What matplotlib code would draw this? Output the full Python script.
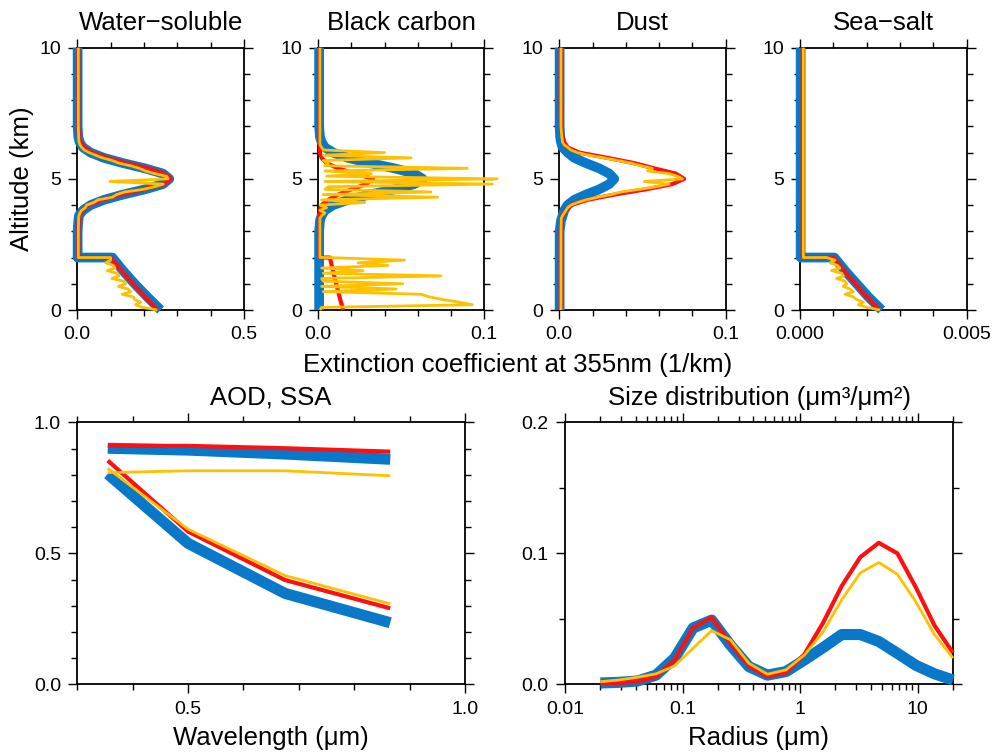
import matplotlib
matplotlib.use("Agg")
import matplotlib.pyplot as plt
from matplotlib.ticker import MultipleLocator, FixedLocator, FixedFormatter, LogLocator, NullFormatter

plt.rcParams["font.family"] = ["Liberation Sans", "DejaVu Sans"]

BLUE = "#0a78c8"
RED = "#ff1010"
YEL = "#ffc000"

# ---- extinction profiles (1/km) ----
alt_smooth = [0.0, 0.5, 1.0, 1.5, 2.0, 2.0, 2.5, 3.0, 3.4, 3.6, 3.8, 4.0, 4.2, 4.4,
              4.6, 4.8, 5.0, 5.2, 5.4, 5.6, 5.8, 6.0, 6.2, 6.4, 6.6, 7.0, 8.0, 10.0]
alt_noisy = [0.0, 0.1, 0.2, 0.3, 0.4, 0.5, 0.6, 0.7, 0.8, 0.9, 1.0, 1.1, 1.2, 1.3, 1.4,
             1.5, 1.6, 1.7, 1.8, 1.9, 2.0,
             2.0, 2.5, 3.0, 3.5,
             3.6, 3.7, 3.8, 3.9, 4.0, 4.1, 4.2, 4.3, 4.4, 4.5, 4.6, 4.7, 4.8, 4.9, 5.0,
             5.1, 5.2, 5.3, 5.4, 5.5, 5.6, 5.7, 5.8, 5.9, 6.0, 6.1, 6.2, 6.3, 6.4,
             6.6, 7.0, 8.0, 10.0]

ws_blue = [0.250, 0.210, 0.172, 0.137, 0.105, 0.001, 0.001, 0.001, 0.003, 0.005, 0.017, 0.040,
           0.080, 0.137, 0.203, 0.257, 0.276, 0.257, 0.203, 0.137, 0.080, 0.040, 0.017, 0.007,
           0.003, 0.001, 0.001, 0.001]
ws_red = [0.240, 0.203, 0.167, 0.133, 0.100, 0.003, 0.003, 0.003, 0.004, 0.006, 0.015, 0.035,
          0.075, 0.130, 0.198, 0.260, 0.280, 0.262, 0.212, 0.148, 0.090, 0.045, 0.020, 0.009,
          0.005, 0.003, 0.003, 0.003]
ws_yel = [0.240, 0.195, 0.175, 0.190, 0.172, 0.168, 0.135, 0.160, 0.152, 0.123, 0.145, 0.138,
          0.104, 0.125, 0.120, 0.090, 0.113, 0.108, 0.085, 0.100, 0.100,
          0.003, 0.003, 0.003, 0.004,
          0.005, 0.008, 0.013, 0.024, 0.028, 0.050, 0.062, 0.105, 0.118, 0.142, 0.198, 0.232,
          0.258, 0.098, 0.272, 0.268, 0.232, 0.205, 0.186, 0.160, 0.125, 0.105, 0.076, 0.055,
          0.036, 0.021, 0.013, 0.008, 0.005,
          0.004, 0.003, 0.003, 0.003]

bc_blue = [0.0005, 0.0005, 0.0005, 0.0005, 0.0005, 0.0005, 0.0005, 0.0005, 0.001, 0.002, 0.004,
           0.009, 0.018, 0.031, 0.046, 0.058, 0.063, 0.058, 0.046, 0.031, 0.018, 0.009, 0.004,
           0.002, 0.001, 0.0005, 0.0005, 0.0005]
bc_red = [0.015, 0.0128, 0.0108, 0.0088, 0.007, 0.001, 0.001, 0.001, 0.001, 0.001, 0.001, 0.002,
          0.006, 0.012, 0.020, 0.029, 0.033, 0.022, 0.012, 0.005, 0.002, 0.001, 0.001, 0.001,
          0.001, 0.001, 0.001, 0.001]
bc_yel = [0.001, 0.002, 0.093, 0.085, 0.075, 0.067, 0.062, 0.003, 0.047, 0.002, 0.051, 0.003,
          0.002, 0.074, 0.003, 0.027, 0.002, 0.042, 0.024, 0.052, 0.006,
          0.001, 0.001, 0.001, 0.001,
          0.002, 0.004, 0.001, 0.005, 0.001, 0.028, 0.002, 0.072, 0.003, 0.068, 0.004, 0.006,
          0.105, 0.004, 0.108, 0.005, 0.032, 0.004, 0.090, 0.004, 0.006, 0.003, 0.056, 0.003,
          0.040, 0.003, 0.002, 0.001, 0.001,
          0.001, 0.001, 0.001, 0.001]

du_blue = [0.0002, 0.0002, 0.0002, 0.0002, 0.0002, 0.0002, 0.0002, 0.0002, 0.001, 0.002, 0.003,
           0.005, 0.009, 0.016, 0.024, 0.030, 0.033, 0.030, 0.024, 0.016, 0.009, 0.005, 0.002,
           0.001, 0.0005, 0.0002, 0.0002, 0.0002]
du_red = [0.0008, 0.0008, 0.0008, 0.0008, 0.0008, 0.0008, 0.0008, 0.0008, 0.0012, 0.002, 0.004,
          0.007, 0.017, 0.033, 0.052, 0.068, 0.075, 0.070, 0.057, 0.045, 0.029, 0.012, 0.005,
          0.003, 0.002, 0.001, 0.0008, 0.0008]
du_yel = [0.001] * 21 + [0.001, 0.001, 0.001, 0.0012] + \
         [0.002, 0.003, 0.004, 0.005, 0.007, 0.011, 0.016, 0.023, 0.031, 0.037, 0.048, 0.058,
          0.066, 0.051, 0.074, 0.071, 0.066, 0.053, 0.056, 0.049, 0.043, 0.035, 0.027, 0.018,
          0.011, 0.007, 0.005, 0.003, 0.002] + [0.0015, 0.001, 0.001, 0.001]

ss_blue = [0.00245, 0.00205, 0.00170, 0.00135, 0.00103] + [0.00002] * 23
ss_red = [0.00238, 0.00200, 0.00166, 0.00132, 0.00100] + [0.00008] * 23
ss_yel = [0.0024, 0.0020, 0.00175, 0.0019, 0.0017, 0.0016, 0.00135, 0.0016, 0.0015, 0.0013,
          0.0014, 0.00135, 0.0011, 0.0013, 0.00125, 0.00095, 0.0012, 0.00112, 0.0009, 0.00105,
          0.0008] + [0.0001] * 37

# ---- AOD / SSA ----
wavelength = [0.355, 0.5, 0.675, 0.865]
ssa_blue = [0.901, 0.894, 0.879, 0.859]
ssa_red = [0.910, 0.910, 0.901, 0.888]
ssa_yel = [0.808, 0.815, 0.815, 0.796]
aod_blue = [0.803, 0.538, 0.347, 0.235]
aod_red = [0.854, 0.583, 0.398, 0.290]
aod_yel = [0.824, 0.592, 0.415, 0.307]

# ---- size distribution ----
radius = [0.02, 0.0288, 0.0414, 0.0595, 0.0856, 0.123, 0.177, 0.255, 0.367, 0.527,
          0.758, 1.09, 1.57, 2.26, 3.25, 4.67, 6.72, 9.66, 13.9, 20.0]
sd_blue = [0.001, 0.0015, 0.0025, 0.007, 0.020, 0.043, 0.049, 0.030, 0.0135, 0.007,
           0.0097, 0.0186, 0.028, 0.038, 0.038, 0.0327, 0.0237, 0.0145, 0.008, 0.0033]
sd_red = [0.0008, 0.001, 0.002, 0.006, 0.0186, 0.043, 0.051, 0.031, 0.014, 0.006,
          0.009, 0.023, 0.047, 0.075, 0.097, 0.108, 0.100, 0.074, 0.045, 0.024]
sd_yel = [0.002, 0.0033, 0.0054, 0.008, 0.014, 0.0276, 0.041, 0.034, 0.016, 0.0077,
          0.011, 0.0224, 0.040, 0.0645, 0.085, 0.093, 0.084, 0.063, 0.038, 0.020]

W, H = 997, 753
fig = plt.figure(figsize=(W / 100, H / 100), dpi=100)


def add_ax(x0, y0, x1, y1):
    return fig.add_axes([x0 / W, 1 - y1 / H, (x1 - x0) / W, (y1 - y0) / H])


def style(ax, title):
    for s in ax.spines.values():
        s.set_linewidth(1.3)
    ax.tick_params(which="both", direction="out", top=True, right=True,
                   width=1.0, labelsize=14, pad=5)
    ax.tick_params(which="major", length=6.7)
    ax.tick_params(which="minor", length=4.3)
    ax.set_title(title, fontsize=18.5, pad=12.5, y=1.0)


def draw(ax, xs, ys, color, lw, z):
    ax.plot(xs, ys, color=color, lw=lw, clip_on=False, zorder=z,
            solid_capstyle="butt", solid_joinstyle="round")


profiles = [
    ("Water\u2212soluble", ws_blue, ws_red, ws_yel, 0.5, 0.1, ["0.0", "0.5"], 77.3, 244.0),
    ("Black carbon", bc_blue, bc_red, bc_yel, 0.1, 0.02, ["0.0", "0.1"], 318.3, 484.0),
    ("Dust", du_blue, du_red, du_yel, 0.1, 0.02, ["0.0", "0.1"], 559.3, 725.7),
    ("Sea\u2212salt", ss_blue, ss_red, ss_yel, 0.005, 0.001, ["0.000", "0.005"], 800.0, 966.7),
]

for title, b, r, y, xmax, minor, labels, x0, x1 in profiles:
    ax = add_ax(x0, 47.7, x1, 310.0)
    draw(ax, b, alt_smooth, BLUE, 7.0, 3)
    draw(ax, r, alt_smooth, RED, 3.0, 4)
    draw(ax, y, alt_noisy, YEL, 2.0, 5)
    ax.set_xlim(0, xmax)
    ax.set_ylim(0, 10)
    ax.xaxis.set_major_locator(FixedLocator([0, xmax]))
    ax.xaxis.set_major_formatter(FixedFormatter(labels))
    ax.xaxis.set_minor_locator(MultipleLocator(minor))
    ax.yaxis.set_major_locator(FixedLocator([0, 5, 10]))
    ax.yaxis.set_major_formatter(FixedFormatter(["0", "5", "10"]))
    ax.yaxis.set_minor_locator(MultipleLocator(1))
    style(ax, title)

fig.text(22 / W, 1 - 178.8 / H, "Altitude (km)", rotation=90, fontsize=18.5,
         ha="center", va="center")
fig.text(517.5 / W, 1 - 371.7 / H, "Extinction coefficient at 355nm (1/km)",
         fontsize=18.5, ha="center", va="baseline")

# AOD, SSA
ax = add_ax(77.3, 422.3, 465.0, 684.3)
for vals, col, lw, z in [(ssa_blue, BLUE, 8.0, 3), (aod_blue, BLUE, 8.0, 3),
                         (ssa_red, RED, 3.0, 4), (aod_red, RED, 3.0, 4),
                         (ssa_yel, YEL, 2.0, 5), (aod_yel, YEL, 2.0, 5)]:
    draw(ax, wavelength, vals, col, lw, z)
ax.set_xlim(0.3, 1.0)
ax.set_ylim(0, 1.0)
ax.xaxis.set_major_locator(FixedLocator([0.5, 1.0]))
ax.xaxis.set_major_formatter(FixedFormatter(["0.5", "1.0"]))
ax.xaxis.set_minor_locator(MultipleLocator(0.1))
ax.yaxis.set_major_locator(FixedLocator([0.0, 0.5, 1.0]))
ax.yaxis.set_major_formatter(FixedFormatter(["0.0", "0.5", "1.0"]))
ax.yaxis.set_minor_locator(MultipleLocator(0.1))
style(ax, "AOD, SSA")
fig.text(271 / W, 1 - 745 / H, "Wavelength (\u03bcm)", fontsize=18.5,
         ha="center", va="baseline")

# size distribution
ax = add_ax(565.0, 422.3, 953.0, 684.3)
draw(ax, radius, sd_blue, BLUE, 8.0, 3)
draw(ax, radius, sd_red, RED, 3.0, 4)
draw(ax, radius, sd_yel, YEL, 2.0, 5)
ax.set_xscale("log")
ax.set_xlim(0.01, 20)
ax.set_ylim(0, 0.2)
ax.xaxis.set_major_locator(FixedLocator([0.01, 0.1, 1, 10]))
ax.xaxis.set_major_formatter(FixedFormatter(["0.01", "0.1", "1", "10"]))
ax.xaxis.set_minor_locator(LogLocator(base=10, subs=[2, 3, 4, 5, 6, 7, 8, 9]))
ax.xaxis.set_minor_formatter(NullFormatter())
ax.yaxis.set_major_locator(FixedLocator([0.0, 0.1, 0.2]))
ax.yaxis.set_major_formatter(FixedFormatter(["0.0", "0.1", "0.2"]))
ax.yaxis.set_minor_locator(MultipleLocator(0.05))
style(ax, "Size distribution (\u03bcm\u00b3/\u03bcm\u00b2)")
fig.text(759 / W, 1 - 745 / H, "Radius (\u03bcm)", fontsize=18.5,
         ha="center", va="baseline")

fig.savefig("out.png", dpi=100)
